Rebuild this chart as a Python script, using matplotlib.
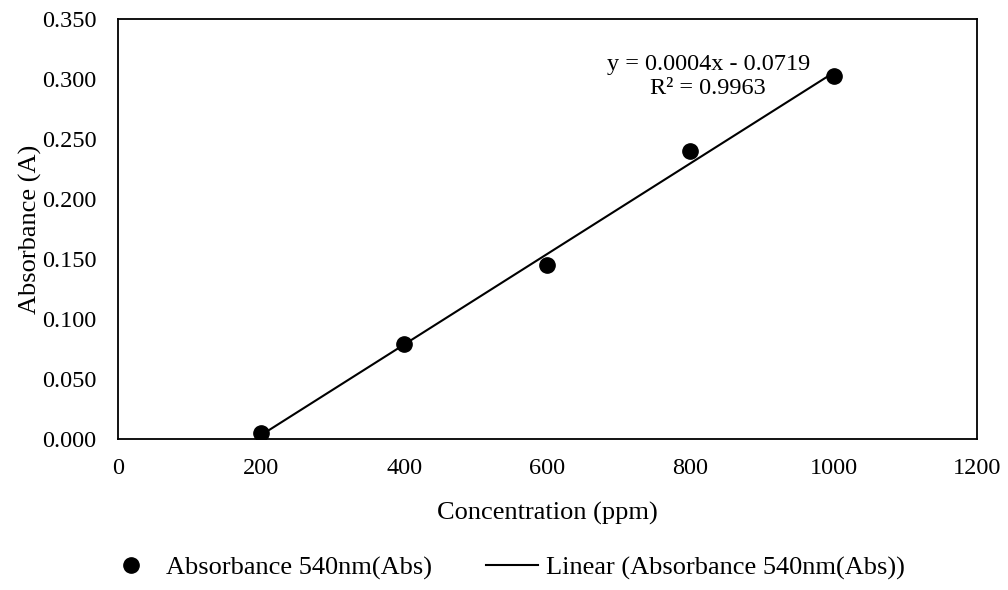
import numpy as np
from matplotlib import pyplot as plt
from matplotlib.lines import Line2D

plt.rcParams['font.family'] = ['Liberation Serif', 'DejaVu Serif']

# data
conc = np.array([200, 400, 600, 800, 1000])
absorb = np.array([0.005, 0.079, 0.145, 0.240, 0.302])
xticks = [0, 200, 400, 600, 800, 1000, 1200]
yticks = [0.0, 0.05, 0.10, 0.15, 0.20, 0.25, 0.30, 0.35]

# linear trendline
slope, icpt = np.polyfit(conc, absorb, 1)
fit = slope * conc + icpt

fig = plt.figure(figsize=(10.08, 5.9), dpi=100)
ax = fig.add_axes([0.117, 0.256, 0.852, 0.712])

ax.plot(conc, fit, color='black', lw=1.5, zorder=2)
ax.plot(conc, absorb, 'o', color='black', ms=11, zorder=3)

ax.set_xlim(0, 1200)
ax.set_ylim(0, 0.35)
ax.set_xticks(xticks)
ax.set_yticks(yticks)
ax.set_yticklabels(['%.3f' % v for v in yticks])
ax.tick_params(length=0, labelsize=17.5)
ax.tick_params(axis='y', pad=15.5)
ax.tick_params(axis='x', pad=14)
for s in ax.spines.values():
    s.set_linewidth(1.3)

ax.set_xlabel('Concentration (ppm)', fontsize=19, labelpad=16)
ax.set_ylabel('Absorbance (A)', fontsize=19, labelpad=0)

ax.text(825, 0.302, 'y = 0.0004x - 0.0719\nR² = 0.9963', ha='center', va='center',
        fontsize=17.5, linespacing=1.15)

handles = [Line2D([], [], marker='o', ls='none', color='black', ms=11),
           Line2D([], [], color='black', lw=1.5)]
fig.legend(handles, ['Absorbance 540nm(Abs)', 'Linear (Absorbance 540nm(Abs))'],
           loc='center', bbox_to_anchor=(0.501, 0.037), ncol=2, frameon=False,
           fontsize=19, handlelength=2.0, handletextpad=0.3, columnspacing=2.05)

fig.savefig('out.png', dpi=100)
